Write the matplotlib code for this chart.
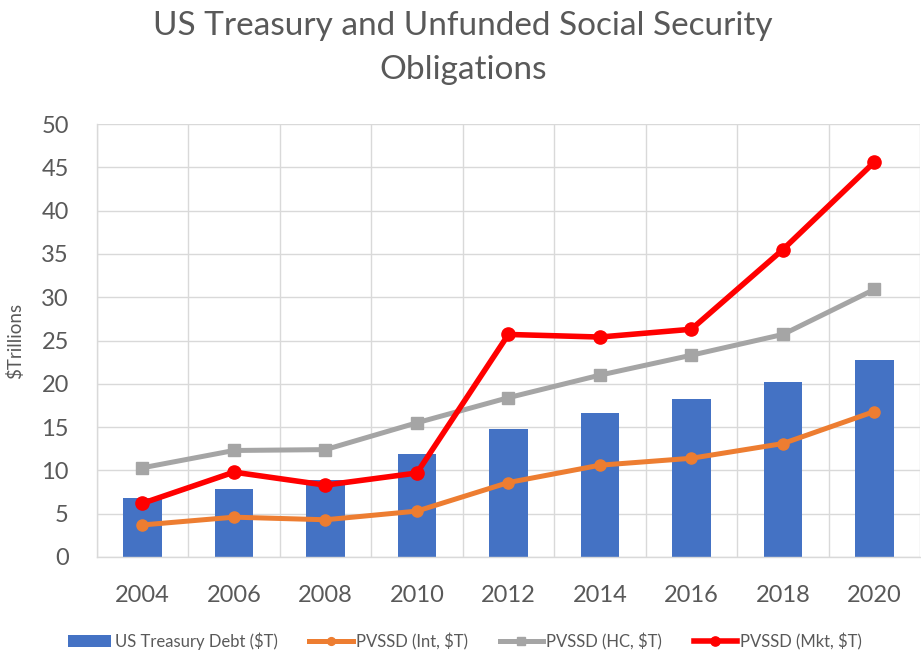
import matplotlib
matplotlib.use('Agg')
from matplotlib import pyplot as plt
import numpy as np

years = ['2004', '2006', '2008', '2010', '2012', '2014', '2016', '2018', '2020']
treasury_debt = [6.8, 7.9, 8.9, 11.9, 14.8, 16.6, 18.2, 20.2, 22.7]
pvssd_int = [3.7, 4.6, 4.3, 5.3, 8.6, 10.6, 11.4, 13.1, 16.8]
pvssd_hc = [10.3, 12.3, 12.4, 15.5, 18.4, 21.0, 23.3, 25.7, 30.9]
pvssd_mkt = [6.2, 9.8, 8.3, 9.7, 25.7, 25.4, 26.3, 35.5, 45.6]


def main():
    plt.rcParams['font.family'] = ['Lato', 'DejaVu Sans']

    fig = plt.figure(figsize=(9.21, 6.51), dpi=100)
    ax = fig.add_axes([0.105, 0.1444, 0.894, 0.6651])

    x = np.arange(len(years))
    bars = ax.bar(x, treasury_debt, width=0.42, color='#4472C4', label='US Treasury Debt ($T)', zorder=2)
    l1, = ax.plot(x, pvssd_int, color='#ED7D31', lw=3.6, marker='o', ms=8, label='PVSSD (Int, $T)', zorder=3)
    l2, = ax.plot(x, pvssd_hc, color='#A5A5A5', lw=3.6, marker='s', ms=8.5, label='PVSSD (HC, $T)', zorder=3)
    l3, = ax.plot(x, pvssd_mkt, color='#FF0000', lw=4, marker='o', ms=9.5, label='PVSSD (Mkt, $T)', zorder=4)

    ax.set_xlim(-0.5, len(years) - 0.5)
    ax.set_ylim(0, 50)
    ax.set_yticks(range(0, 51, 5))
    ax.set_xticks(x)
    ax.set_xticklabels(years)
    ax.set_xticks(np.arange(-0.5, len(years), 1), minor=True)

    ax.grid(True, axis='y', color='#D9D9D9', lw=1, zorder=0)
    ax.grid(True, axis='x', which='minor', color='#D9D9D9', lw=1, zorder=0)
    ax.set_axisbelow(True)

    for side in ['top', 'right']:
        ax.spines[side].set_visible(False)
    for side in ['left', 'bottom']:
        ax.spines[side].set_color('#D9D9D9')
        ax.spines[side].set_linewidth(1)
    ax.tick_params(which='both', length=0, labelsize=17, colors='#595959')
    ax.tick_params(axis='y', pad=20)
    ax.tick_params(axis='x', pad=20)

    ax.set_ylabel('$Trillions', fontsize=13.5, color='#595959')
    ax.yaxis.set_label_coords(-0.088, 0.5)

    fig.suptitle('US Treasury and Unfunded Social Security\nObligations',
                 x=0.503, y=0.983, fontsize=24, color='#595959', linespacing=1.6)

    fig.legend([bars, l1, l2, l3], [h.get_label() for h in [bars, l1, l2, l3]],
               loc='center', ncol=4, bbox_to_anchor=(0.505, 0.015), frameon=False,
               fontsize=12, labelcolor='#595959', handlelength=2.6, columnspacing=1.9,
               handletextpad=0.2, markerscale=0.7)

    fig.savefig('out.png', dpi=100)


if __name__ == '__main__':
    main()
